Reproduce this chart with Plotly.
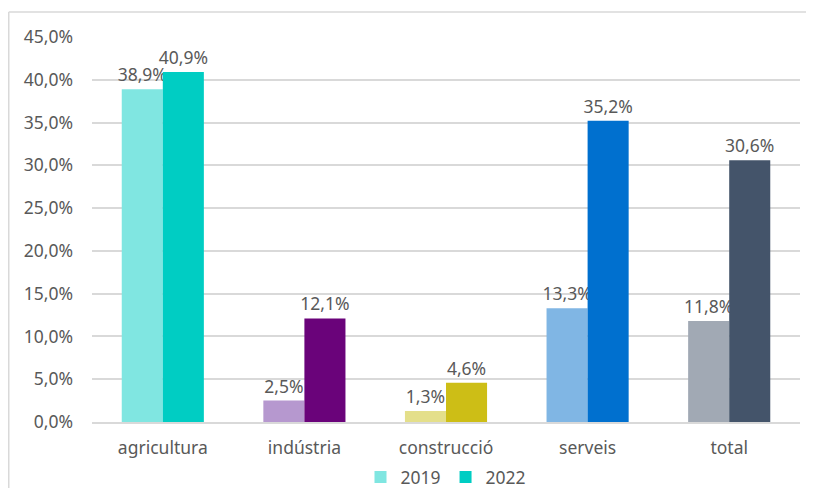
import plotly.graph_objects as go

categories = ["agricultura", "indústria", "construcció", "serveis", "total"]
values_2019 = [0.389, 0.025, 0.013, 0.133, 0.118]
values_2022 = [0.409, 0.121, 0.046, 0.352, 0.306]

colors_2019 = ["#80E6E1", "#B698CF", "#E4DF8A", "#80B6E4", "#A1A9B4"]
colors_2022 = ["#00CDC3", "#6A037A", "#CDBE16", "#0070CF", "#44546A"]

font_family = "Noto Sans, Open Sans, sans-serif"
text_color = "#595959"
font_size = 17.5

# page body has an 8px margin, so the figure sits at (8, 8) in the window
W, H = 798, 480
left, right, top, bottom = 84, 6, 29, 66
pw = W - left - right
ph = H - top - bottom

fig = go.Figure()
for name, vals, cols in [("2019", values_2019, colors_2019), ("2022", values_2022, colors_2022)]:
    fig.add_trace(
        go.Bar(
            name=name,
            x=categories,
            y=vals,
            marker=dict(color=cols, line=dict(width=0)),
            texttemplate="%{y:.1%}",
            textposition="outside",
            constraintext="none",
            textfont=dict(size=font_size, color=text_color, family=font_family),
            cliponaxis=False,
        )
    )

# chart area border: only the top and left edges are in view
border_x = (0.75 - left) / pw
border_y = (H - bottom - 4) / ph
fig.add_shape(
    type="line", xref="paper", yref="paper",
    x0=border_x, x1=(W + 50 - left) / pw, y0=border_y, y1=border_y,
    line=dict(color="#D9D9D9", width=1.5), layer="below",
)
fig.add_shape(
    type="line", xref="paper", yref="paper",
    x0=border_x, x1=border_x, y0=border_y, y1=-(bottom + 50) / ph,
    line=dict(color="#D9D9D9", width=1.5), layer="below",
)

fig.update_layout(
    width=W,
    height=H,
    margin=dict(l=left, r=right, t=top, b=bottom, autoexpand=False),
    paper_bgcolor="white",
    plot_bgcolor="white",
    separators=",.",
    barmode="group",
    bargap=0.42,
    bargroupgap=0,
    font=dict(family=font_family, size=font_size, color=text_color),
    showlegend=True,
    legend=dict(
        orientation="h",
        x=(438 - left) / pw,
        xanchor="center",
        yref="container",
        y=1 - 469 / H,
        yanchor="middle",
        bgcolor="rgba(0,0,0,0)",
        font=dict(size=font_size, color=text_color),
        itemwidth=30,
        traceorder="normal",
    ),
)
fig.update_xaxes(
    automargin=False,
    showgrid=False,
    showline=True,
    linecolor="#D9D9D9",
    linewidth=1.5,
    ticks="",
    tickfont=dict(size=font_size, color=text_color),
    ticklabelstandoff=9,
)
fig.update_yaxes(
    automargin=False,
    range=[0, 0.45],
    dtick=0.05,
    tickformat=".1%",
    showgrid=True,
    gridcolor="#D9D9D9",
    gridwidth=1.5,
    zeroline=False,
    showline=False,
    ticks="",
    tickfont=dict(size=font_size, color=text_color),
    ticklabelstandoff=18,
)

fig.write_html("out.html")
